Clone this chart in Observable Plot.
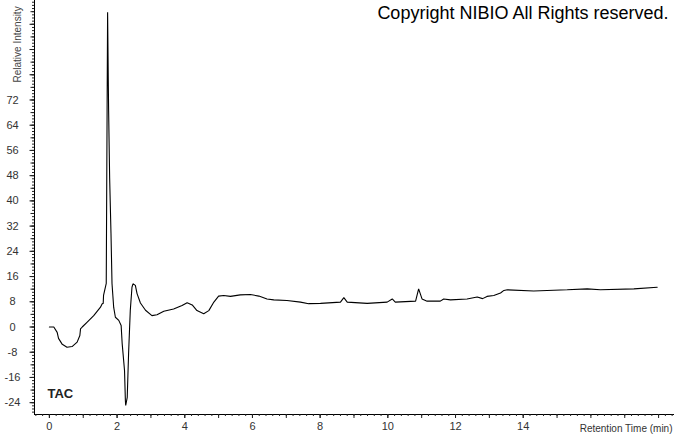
<!DOCTYPE html>
<html>
<head>
<meta charset="utf-8">
<script src="https://cdn.jsdelivr.net/npm/d3@7"></script>
<script src="https://cdn.jsdelivr.net/npm/@observablehq/plot@0.6"></script>
<style>
  html, body { margin: 0; padding: 0; background: #fff; }
  #chart svg { display: block; }
</style>
</head>
<body>
<div id="chart"></div>
<script>
// Retention time (min)
const times = [0,0.13,0.23,0.27,0.38,0.52,0.67,0.82,0.90,0.92,
  0.97,1.11,1.31,1.51,1.56,1.59,1.60,1.68,1.705,1.72,
  1.74,1.75,1.78,1.82,1.85,1.90,1.95,2.05,2.12,2.15,
  2.22,2.245,2.255,2.30,2.34,2.39,2.44,2.47,2.54,2.59,
  2.69,2.84,3.03,3.18,3.38,3.67,3.92,4.07,4.22,4.36,
  4.56,4.71,4.86,5.00,5.15,5.35,5.64,5.94,6.19,6.43,
  6.63,7.02,7.42,7.66,8.01,8.60,8.70,8.80,9.39,9.98,
  10.13,10.22,10.82,10.91,11.01,11.16,11.55,11.65,11.85,12.34,
  12.64,12.80,12.93,13.13,13.33,13.43,13.53,14.31,15.30,15.89,16.28,
  17.27,17.96];
// Relative intensity
const intensity = [0,0,-1.7,-3.6,-5.5,-6.4,-6.2,-4.8,-2.7,-0.6,
  0,1.5,3.6,6.3,7.4,7.5,10.0,13.8,68.7,99.8,
  78.2,68.7,47.4,29.7,13.8,6.2,3.1,2.1,0.5,-5.2,
  -13.8,-23.3,-24.9,-22.3,-8.4,5.2,12.6,13.7,13.2,10.6,
  7.6,5.3,3.6,3.9,5.0,5.7,6.8,7.7,7.0,5.2,
  4.2,5.2,7.9,9.8,10.0,9.7,10.2,10.3,9.8,8.9,
  8.6,8.4,7.9,7.4,7.5,7.9,9.3,7.9,7.5,7.9,
  8.9,7.9,8.2,12.1,8.9,8.2,8.2,8.9,8.6,8.9,
  9.5,9.0,9.7,10.0,10.8,11.6,11.8,11.4,11.8,12.1,11.8,
  12.1,12.6];

const xDomain = [-0.44, 18.47];
const yDomain = [-27.75, 103.55];
const xTickLabels = [0, 2, 4, 6, 8, 10, 12, 14];
const yTickLabels = [-24, -16, -8, 0, 8, 16, 24, 32, 40, 48, 56, 64, 72];
const xMajorTicks = d3.range(0, 19, 1);
const xMinorTicks = d3.range(-2, 93, 1).map(i => +(i * 0.2).toFixed(1));
const yMajorTicks = d3.range(-24, 100, 8);
const yMidTicks = d3.range(-24, 104, 4);
const yMinorTicks = d3.range(-27, 104, 1);

const title = "Copyright NIBIO All Rights reserved.";
const traceLabel = "TAC";
const xLabel = "Retention Time (min)";
const yLabel = "Relative Intensity";

const data = times.map((t, i) => ({t, v: intensity[i]}));

const chart = Plot.plot({
  width: 674,
  height: 434,
  marginLeft: 34,
  marginRight: 0,
  marginTop: 0,
  marginBottom: 20,
  style: {fontFamily: "'Liberation Sans', Arial, sans-serif", fontSize: "11px", color: "#333", background: "#fff"},
  x: {domain: xDomain, axis: null},
  y: {domain: yDomain, axis: null},
  marks: [
    Plot.ruleX([xDomain[0]], {stroke: "#000"}),
    Plot.ruleY([yDomain[0]], {stroke: "#000"}),
    Plot.axisX({ticks: xMinorTicks, tickSize: 2, fill: "none", stroke: "#222", label: null}),
    Plot.axisX({ticks: xMajorTicks, tickSize: 4, fill: "none", stroke: "#222", label: null}),
    Plot.axisX({ticks: xTickLabels, tickSize: 4, tickPadding: 4, stroke: "#222", fill: "#333", tickFormat: d => String(d), label: null}),
    Plot.axisY({ticks: yMinorTicks, tickSize: 2, fill: "none", stroke: "#222", label: null}),
    Plot.axisY({ticks: yMidTicks, tickSize: 3.5, fill: "none", stroke: "#222", label: null}),
    Plot.axisY({ticks: yMajorTicks, tickSize: 4.5, fill: "none", stroke: "#222", label: null}),
    Plot.text(yTickLabels, {y: d => d, text: d => String(d), frameAnchor: "left", dx: -22, textAnchor: "middle", fill: "#333", fontSize: 11}),
    Plot.line(data, {x: "t", y: "v", stroke: "#000", strokeWidth: 1.1, strokeLinejoin: "miter"}),
    Plot.text([yLabel], {text: d => d, frameAnchor: "top-left", dx: -17, dy: 82, rotate: -90, textAnchor: "start", lineAnchor: "middle", fill: "#444", fontSize: 10}),
    Plot.text([xLabel], {text: d => d, frameAnchor: "bottom-right", dx: -2, dy: 14, textAnchor: "end", lineAnchor: "middle", fill: "#333", fontSize: 10}),
    Plot.text([title], {text: d => d, frameAnchor: "top-right", dx: -6, dy: 13, textAnchor: "end", lineAnchor: "middle", fill: "#000", fontSize: 18}),
    Plot.text([traceLabel], {text: d => d, frameAnchor: "bottom-left", dx: 13, dy: -21, textAnchor: "start", lineAnchor: "middle", fill: "#222", fontSize: 13, fontWeight: "bold"})
  ]
});
document.getElementById("chart").appendChild(chart);
</script>
</body>
</html>
